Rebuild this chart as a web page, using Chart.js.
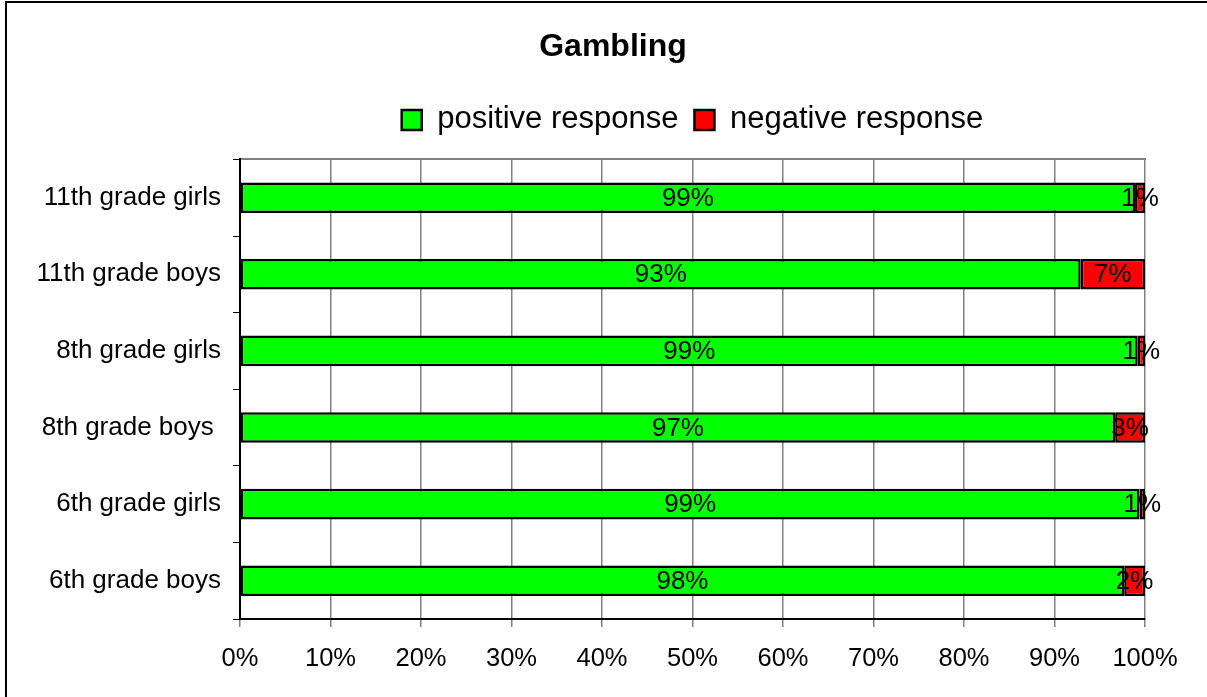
<!DOCTYPE html>
<html>
<head>
<meta charset="utf-8">
<script src="https://cdn.jsdelivr.net/npm/chart.js@4/dist/chart.umd.min.js"></script>
<style>
  body { margin: 0; background: #fff; }
  #wrap { width: 1207px; height: 697px; }
</style>
</head>
<body>
<div id="wrap"><canvas id="gamblingChart"></canvas></div>
<script>
// categories top to bottom
var groups = ['11th grade girls', '11th grade boys', '8th grade girls', '8th grade boys ', '6th grade girls', '6th grade boys'];
// share of answers in percent
var positiveValues = [98.9, 92.9, 99.2, 96.7, 99.4, 97.7];
var negativeValues = [1.1, 7.1, 0.8, 3.3, 0.6, 2.3];
var xTicks = [0, 10, 20, 30, 40, 50, 60, 70, 80, 90, 100];

var FONT = 'Arial, "Liberation Sans", sans-serif';

// white page with the outer frame of the chart
var framePlugin = {
    id: 'frame',
    afterLayout: function (chart) {
        // title is centred on the outer frame, not on the canvas
        var t = chart.titleBlock;
        if (t) {
            t.left = 19;
            t.right = chart.width;
        }
    },
    beforeDraw: function (chart) {
        var ctx = chart.ctx;
        ctx.save();
        ctx.fillStyle = '#fff';
        ctx.fillRect(0, 0, chart.width, chart.height);
        ctx.strokeStyle = '#000';
        ctx.lineWidth = 2;
        ctx.strokeRect(6, 2, chart.width + 20, chart.height + 20);
        ctx.restore();
    }
};

// percent labels in the middle of each segment
var valueLabels = {
    id: 'valueLabels',
    afterDatasetsDraw: function (chart) {
        var ctx = chart.ctx;
        ctx.save();
        ctx.font = '26px ' + FONT;
        ctx.fillStyle = '#000';
        ctx.textAlign = 'center';
        ctx.textBaseline = 'middle';
        chart.data.datasets.forEach(function (ds, i) {
            chart.getDatasetMeta(i).data.forEach(function (bar, j) {
                var cx = (bar.x + bar.base) / 2;
                ctx.fillText(Math.round(ds.data[j]) + '%', cx, bar.y + 1);
            });
        });
        ctx.restore();
    }
};

var ctx = document.getElementById('gamblingChart').getContext('2d');
var chart = new Chart(ctx, {
    type: 'bar',
    data: {
        labels: groups,
        datasets: [
            {
                label: 'positive response',
                data: positiveValues,
                backgroundColor: '#00ff00',
                borderColor: '#000',
                borderWidth: 2.5,
                borderSkipped: false,
                barPercentage: 0.4,
                categoryPercentage: 1
            },
            {
                label: 'negative response',
                data: negativeValues,
                backgroundColor: '#ff0000',
                borderColor: '#000',
                borderWidth: 2.5,
                borderSkipped: false,
                barPercentage: 0.4,
                categoryPercentage: 1
            }
        ]
    },
    options: {
        indexAxis: 'y',
        responsive: true,
        maintainAspectRatio: false,
        animation: false,
        layout: { padding: { left: 0, right: 62, top: 0, bottom: 0 } },
        plugins: {
            title: {
                display: true,
                text: 'Gambling',
                color: '#000',
                font: { family: FONT, size: 32, weight: 'bold' },
                padding: { top: 28, bottom: 22 }
            },
            legend: {
                display: true,
                position: 'top',
                fullSize: false,
                labels: {
                    color: '#000',
                    font: { family: FONT, size: 31 },
                    boxWidth: 20,
                    boxHeight: 20,
                    padding: 16
                }
            },
            tooltip: { enabled: false }
        },
        scales: {
            x: {
                stacked: true,
                min: 0,
                max: 100,
                afterBuildTicks: function (scale) {
                    scale.ticks = xTicks.map(function (v) { return { value: v }; });
                },
                ticks: {
                    color: '#000',
                    font: { family: FONT, size: 25.5 },
                    padding: 17,
                    maxRotation: 0,
                    callback: function (v) { return v + '%'; }
                },
                grid: { color: '#808080', lineWidth: 1.5, tickLength: 8 },
                border: { color: '#000', width: 2 },
                afterFit: function (scale) { scale.height = 78; }
            },
            xTop: {
                type: 'linear',
                position: 'top',
                display: true,
                ticks: { display: false },
                grid: { drawOnChartArea: false, drawTicks: false },
                border: { color: '#808080', width: 2 },
                afterFit: function (scale) { scale.height = 14; }
            },
            y: {
                stacked: true,
                ticks: {
                    color: '#000',
                    font: { family: FONT, size: 26 },
                    padding: 12
                },
                grid: { drawOnChartArea: false, drawTicks: true, tickLength: 7, color: '#000' },
                border: { color: '#000', width: 2 },
                afterFit: function (scale) { scale.width = 240; }
            }
        }
    },
    plugins: [framePlugin, valueLabels]
});
</script>
</body>
</html>
